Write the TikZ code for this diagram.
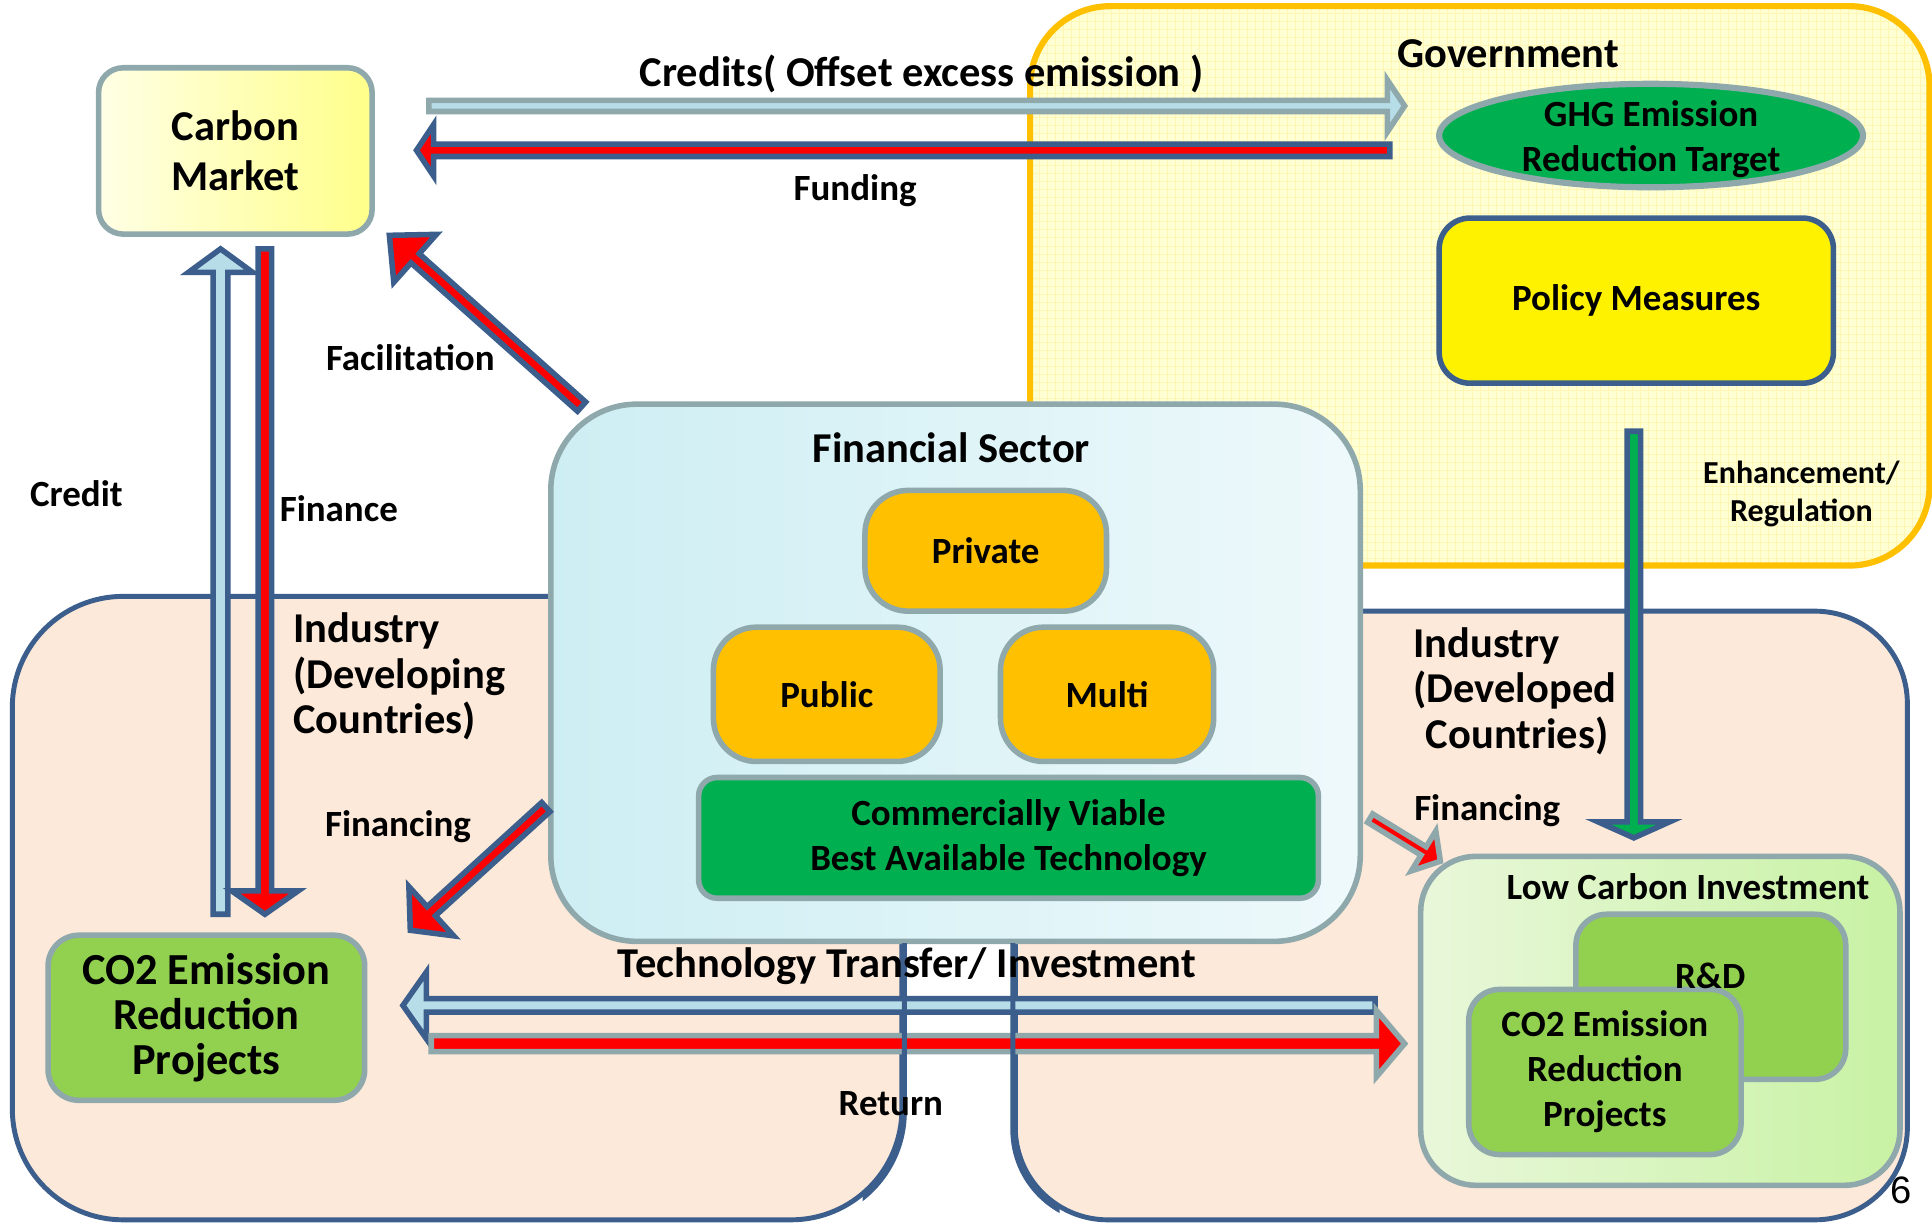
\documentclass[tikz,border=0pt]{standalone}
\usepackage{fontspec}
\setmainfont{Carlito}
\newfontfamily\pagefont{Liberation Sans}
\usetikzlibrary{calc,positioning,shapes.geometric}

\definecolor{peach}{HTML}{FDE9D9}
\definecolor{navy}{HTML}{3B5E8C}
\definecolor{slate}{HTML}{8FA8AC}
\definecolor{skyblue}{HTML}{B7DEE8}
\definecolor{leaf}{HTML}{92D050}
\definecolor{emerald}{HTML}{00B050}
\definecolor{amber}{HTML}{FFC000}
\definecolor{govfill}{HTML}{FFFFD4}
\definecolor{govgrid}{HTML}{FFF6B4}
\definecolor{cmlight}{HTML}{FFFFE6}
\definecolor{cmyellow}{HTML}{FFFF8A}
\definecolor{fincyan}{HTML}{CDEEF3}
\definecolor{finpale}{HTML}{EEF9FB}
\definecolor{lcpale}{HTML}{E9F7DA}
\definecolor{lcgreen}{HTML}{C8F2A4}

\newcommand{\txtbig}{\fontsize{34.5}{37}\selectfont\bfseries}
\newcommand{\txtmid}{\fontsize{30}{36.5}\selectfont\bfseries}
\newcommand{\txtsmall}{\fontsize{26}{31}\selectfont\bfseries}

% block arrow: [style]{tail}{tip}{half shaft}{half head}{head length}
\newcommand{\blockarrow}[6][]{%
  \coordinate (bah) at ($(#3)!#6pt!(#2)$);
  \draw[arrowbody,#1] ($(#2)!#4pt!90:(#3)$) -- ($(bah)!#4pt!90:(#3)$)
    -- ($(bah)!#5pt!90:(#3)$) -- (#3) -- ($(bah)!#5pt!-90:(#3)$)
    -- ($(bah)!#4pt!-90:(#3)$) -- ($(#2)!#4pt!-90:(#3)$) -- cycle;}

\begin{document}
\begin{tikzpicture}[x=1pt,y=-1pt,
    region/.style={fill=peach,draw=navy,line width=4pt},
    bubble/.style={draw=slate,line width=4.5pt,rounded corners=35pt,font=\txtmid,align=center},
    lbl/.style={font=\txtmid,inner sep=0pt,align=center},
    arrowbody/.style={line width=4.5pt,line join=miter},
    redarrow/.style={fill=red,draw=navy},
    bluearrow/.style={fill=skyblue,draw=navy}]
    \fill[white] (0,0) rectangle (1568,993);
    \useasboundingbox (0,0) rectangle (1568,993);

    % regions
    \node[region,draw=amber,fill=govfill,line width=5pt,rounded corners=65pt,
        minimum width=730pt,minimum height=454pt,
        path picture={\draw[govgrid,line width=0.5pt,step=6.5pt]
            (path picture bounding box.south west) grid (path picture bounding box.north east);}]
        (gov) at (1201,232) {};
    \node[region,rounded corners=90pt,minimum width=722pt,minimum height=506pt] (devg) at (371,737) {};
    \node[region,rounded corners=75pt,minimum width=724pt,minimum height=494pt] (devd) at (1186,743) {};

    % credits / funding
    \coordinate (credA) at (348,86);
    \coordinate (credB) at (1140,86);
    \coordinate (fundA) at (1128,122);
    \coordinate (fundB) at (338,122);
    \blockarrow[bluearrow,draw=slate]{credA}{credB}{4.5}{21}{14}
    \blockarrow[redarrow]{fundA}{fundB}{5}{21}{14}

    \node[bubble,rounded corners=20pt,font=\txtbig,left color=cmlight,right color=cmyellow,
        minimum width=222pt,minimum height=135pt] (market) at (191,122.5) {Carbon\\[4pt]Market};

    % government
    \node[ellipse,draw=slate,line width=5pt,fill=emerald,minimum width=344pt,minimum height=84pt] (ghg) at (1340,110) {};
    \node[bubble,draw=navy,fill=yellow,rounded corners=25pt,minimum width=320pt,minimum height=134pt] (policy) at (1328,244) {Policy Measures};

    % financial sector
    \node[bubble,rounded corners=70pt,left color=fincyan,right color=finpale,
        minimum width=657pt,minimum height=436pt] (fin) at (775.5,546) {};
    \node[bubble,fill=amber,minimum width=196pt,minimum height=98pt] (private) at (800,447) {Private};
    \node[bubble,fill=amber,minimum width=184pt,minimum height=109pt] (public) at (671,563.5) {Public};
    \node[bubble,fill=amber,minimum width=173pt,minimum height=109pt] (multi) at (898.5,563.5) {Multi};
    \node[bubble,fill=emerald,rounded corners=15pt,minimum width=503pt,minimum height=98pt] (bat) at (818.5,680)
        {Commercially Viable\\Best Available Technology};

    % arrows
    \coordinate (facA) at (472,330);
    \coordinate (facB) at (316,191);
    \coordinate (upA) at (179,742);
    \coordinate (upB) at (179,202);
    \coordinate (downA) at (215,202);
    \coordinate (downB) at (215,742);
    \coordinate (regA) at (1326,350);
    \coordinate (regB) at (1326,680);
    \coordinate (fgA) at (443,655);
    \coordinate (fgB) at (333,755);
    \coordinate (fdA) at (1112,664);
    \coordinate (fdB) at (1169,699);
    \coordinate (techA) at (1116,816);
    \coordinate (techB) at (327,816);
    \coordinate (retA) at (350,847);
    \coordinate (retB) at (1140,847);
    \blockarrow[redarrow]{facA}{facB}{5}{26}{28}
    \blockarrow[bluearrow]{upA}{upB}{6}{26}{19}
    \blockarrow[redarrow]{downA}{downB}{5.5}{27}{19}
    \blockarrow[fill=emerald,draw=navy]{regA}{regB}{5.5}{29}{13}
    \blockarrow[redarrow]{fgA}{fgB}{5}{27}{23}
    \blockarrow[redarrow,draw=slate]{fdA}{fdB}{4}{19}{16}
    \blockarrow[bluearrow]{techA}{techB}{5.5}{27}{19}
    \blockarrow[redarrow,draw=slate]{retA}{retB}{6.5}{27}{23}

    % region edges seen over the bottom arrows
    \begin{scope}
        \clip (700,766) rectangle (860,993);
        \draw[navy,line width=4pt,rounded corners=90pt] (devg.north west) rectangle (devg.south east);
        \draw[navy,line width=4pt,rounded corners=75pt] (devd.north west) rectangle (devd.south east);
    \end{scope}

    % low carbon investment
    \node[bubble,rounded corners=45pt,left color=lcpale,right color=lcgreen,
        minimum width=389pt,minimum height=267pt] (lowc) at (1347.5,828.5) {};
    \node[bubble,fill=leaf,rounded corners=25pt,minimum width=219pt,minimum height=134pt] (rd) at (1388.5,809) {};
    \node[bubble,fill=leaf,rounded corners=25pt,minimum width=221pt,minimum height=134pt] (co2r) at (1302.5,870)
        {CO2 Emission\\Reduction\\Projects};
    \node[bubble,fill=leaf,rounded corners=25pt,font=\fontsize{36}{36.5}\selectfont\bfseries,
        minimum width=257pt,minimum height=134pt] (co2l) at (167.5,826) {CO2 Emission\\Reduction\\Projects};

    % labels
    \node[lbl,font=\txtbig] (credlbl) at (748,60) {Credits( Offset excess emission )};
    \node[lbl] (fundlbl) at (694,155) {Funding};
    \node[lbl] (faclbl) at (333,290) {Facilitation};
    \node[lbl] (creditlbl) at (62,401) {Credit};
    \node[lbl] (financelbl) at (275,413) {Finance};
    \node[lbl,font=\txtbig] (govlbl) at (1224,44) {Government};
    \node[lbl] (ghglbl) at (1340,113) {GHG Emission\\Reduction Target};
    \node[lbl,font=\txtsmall] (enhlbl) at (1462,401) {Enhancement/\\Regulation};
    \node[lbl,font=\txtbig] (finlbl) at (772,363) {Financial Sector};
    \node[lbl,font=\txtbig,align=left,anchor=west] (devglbl) at (238,549) {Industry\\(Developing\\Countries)};
    \node[lbl,font=\txtbig,align=left,anchor=west] (devdlbl) at (1147,561) {Industry\\(Developed\\\hspace*{10pt}Countries)};
    \node[lbl] (fglbl) at (323,671) {Financing};
    \node[lbl] (fdlbl) at (1207,658) {Financing};
    \node[lbl,font=\txtbig] (techlbl) at (736,784) {Technology Transfer/ Investment};
    \node[lbl] (retlbl) at (723,896) {Return};
    \node[lbl] (lowlbl) at (1370,720) {Low Carbon Investment};
    \node[lbl] (rdlbl) at (1388,792) {R\&D};
    \node[font=\pagefont\fontsize{31}{31}\selectfont,inner sep=0pt] (pagenum) at (1543,966) {6};
\end{tikzpicture}
\end{document}
